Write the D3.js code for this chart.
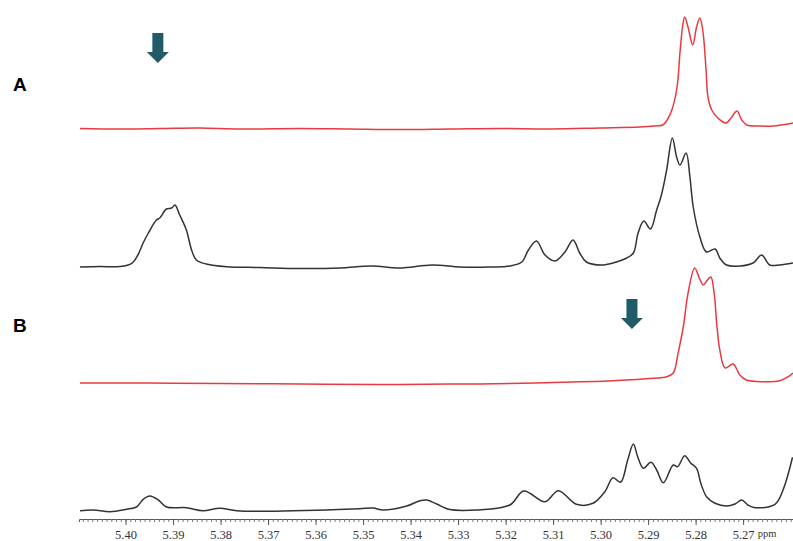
<!DOCTYPE html>
<html>
<head>
<meta charset="utf-8">
<script src="https://cdn.jsdelivr.net/npm/d3@7"></script>
<style>
    body { margin: 0; background: #fff; }
    svg { display: block; }
</style>
</head>
<body>
<svg id="vis" width="793" height="541"></svg>
<script>
/**
 * 1H NMR spectra, 5.41 - 5.26 ppm
 * each point is [ppm, intensity] (arbitrary units above the trace baseline)
 */
const redA = [[5.4096,0.5],[5.4012,0],[5.3928,0.5],[5.3844,1],[5.3759,0],[5.3633,0.5],[5.3528,0],[5.3423,-0.5],
    [5.3317,0],[5.3212,0.5],[5.3107,0],[5.3002,1],[5.2917,2],[5.2886,3],[5.2869,4],[5.2860,9],[5.2850,19],
    [5.2839,42],[5.2833,76],[5.2827,104],[5.2823,112],[5.2816,102],[5.2806,84],[5.2798,102],[5.2791,111],
    [5.2785,99],[5.2778,59],[5.2774,32],[5.2766,19],[5.2753,11],[5.2736,6],[5.2724,12],[5.2713,18],
    [5.2703,9],[5.2692,4],[5.2665,3],[5.2637,3],[5.2595,6]];

const blackA = [[5.4096,1],[5.4054,1.5],[5.4012,1.5],[5.3987,4.7],[5.3974,13],[5.3963,25],[5.3952,35],[5.3935,48],
    [5.3928,50],[5.3914,59],[5.3903,60],[5.3896,63],[5.3886,53],[5.3872,38],[5.3861,18],[5.3851,8],[5.3830,4],
    [5.3787,1.3],[5.3717,0.5],[5.3633,-0.5],[5.3549,0],[5.3482,2],[5.3423,0],[5.3355,3],[5.3296,1],[5.3233,1],
    [5.3191,2],[5.3166,6],[5.3152,18],[5.3135,27],[5.3117,13],[5.3096,7],[5.3075,16],[5.3058,28],[5.3044,15],
    [5.3030,6],[5.2998,3],[5.2974,5],[5.2945,10],[5.2931,15],[5.2921,35],[5.2909,47],[5.2895,39],[5.2882,58],
    [5.2872,73],[5.2861,98],[5.2849,130],[5.2840,111],[5.2833,103],[5.2820,115],[5.2812,91],[5.2805,61],
    [5.2791,31],[5.2777,16],[5.2759,19],[5.2749,10],[5.2735,3],[5.2707,2],[5.2679,5],[5.2661,13],[5.2644,3],
    [5.2623,3],[5.2595,5]];

const redB = [[5.4096,1],[5.3949,1],[5.3802,0.5],[5.3633,0],[5.3465,-0.5],[5.3317,0],[5.3254,0],[5.3114,1.3],
    [5.2974,3.3],[5.2889,5.7],[5.2861,7.3],[5.2847,11],[5.2837,30.7],[5.2826,57],[5.2816,90.7],[5.2802,116],
    [5.2792,105.7],[5.2784,99],[5.2775,104],[5.2768,107],[5.2761,90.7],[5.2755,57.3],[5.2749,34],[5.2738,16],
    [5.2721,20],[5.2707,9],[5.2693,4],[5.2658,2.3],[5.2623,3.3],[5.2605,7.3],[5.2595,11]];

const blackB = [[5.4096,0.3],[5.4068,1],[5.4033,-0.7],[5.3998,1.7],[5.3977,4],[5.3963,11.7],[5.3949,15],[5.3931,11],
    [5.3914,4],[5.3872,3.3],[5.3837,0.3],[5.3802,2.7],[5.3766,0.3],[5.3717,-0.3],[5.3647,0.3],[5.3577,1],
    [5.3507,2.3],[5.3479,3],[5.3458,1],[5.3408,5],[5.3380,10.3],[5.3366,11],[5.3345,7],[5.3320,1.7],[5.3261,1],
    [5.3191,6],[5.3162,20],[5.3117,9.3],[5.3089,20.3],[5.3051,6.7],[5.3016,7.7],[5.2991,19.3],[5.2974,33.3],
    [5.2958,28.7],[5.2943,51],[5.2931,67],[5.2922,54.3],[5.2910,42.7],[5.2894,48.7],[5.2882,41],[5.2868,28.3],
    [5.2847,46],[5.2838,44.3],[5.2823,55.3],[5.2810,47.7],[5.2798,42.7],[5.2789,27.7],[5.2777,14.3],[5.2759,7.7],
    [5.2735,5],[5.2717,7],[5.2703,11],[5.2690,6],[5.2675,3.3],[5.2633,6.7],[5.2616,21],[5.2596,53.7]];

// vertical stacking offsets for each trace (same units as intensity)
const traceOffsets = [391, 252, 136, 9];
const traceColors = ["#e83a3f", "#333333", "#e83a3f", "#333333"];

// axis tick labels
const majorTicks = [5.40, 5.39, 5.38, 5.37, 5.36, 5.35, 5.34, 5.33, 5.32, 5.31, 5.30, 5.29, 5.28, 5.27];

// panel labels and the arrows pointing at the signal of interest
const panelLabels = ["A", "B"];
const arrowPpm = [5.3932, 5.2934];

const MARGINS = {top: 0, right: 0, bottom: 22, left: 79};
const WIDTH = 793, HEIGHT = 541;

var svg = d3.select("#vis");

// x axis: ppm decreasing to the right, as usual for NMR
var xScale = d3.scaleLinear()
    .domain([5.4098, 5.2595])
    .range([MARGINS.left, WIDTH - MARGINS.right]);

var yScale = d3.scaleLinear()
    .domain([0, 520])
    .range([520, 0]);

var line = d3.line()
    .x(function(d){ return xScale(d[0]); })
    .y(function(d){ return yScale(d[1] + d.off); })
    .curve(d3.curveCatmullRom.alpha(0.5));

// draw the four spectra
[redA, blackA, redB, blackB].forEach(function(series, i){
    var pts = series.map(function(p){ var q = [p[0], p[1]]; q.off = traceOffsets[i]; return q; });
    svg.append("path")
        .datum(pts)
        .attr("d", line)
        .attr("fill", "none")
        .attr("stroke", traceColors[i])
        .attr("stroke-width", 1.5)
        .attr("stroke-linejoin", "round");
});

// ppm axis: minor ticks every 0.001, labelled ticks every 0.01
var axisY = 519;
var minorTicks = d3.range(5409, 5259, -1).map(function(v){ return v / 1000; });

var minorAxis = d3.axisBottom(xScale)
    .tickValues(minorTicks)
    .tickSize(3)
    .tickFormat("");
var majorAxis = d3.axisBottom(xScale)
    .tickValues(majorTicks)
    .tickSize(6)
    .tickPadding(5)
    .tickFormat(d3.format(".2f"));

var gMinor = svg.append("g")
    .attr("transform", `translate(0, ${axisY})`)
    .call(minorAxis);
gMinor.select(".domain").attr("stroke", "#555").attr("stroke-width", 1);
gMinor.selectAll(".tick line").attr("stroke", "#777");

var gMajor = svg.append("g")
    .attr("transform", `translate(0, ${axisY})`)
    .call(majorAxis);
gMajor.select(".domain").remove();
gMajor.selectAll(".tick line").attr("stroke", "#555");
gMajor.selectAll("text")
    .style("font-family", "'Liberation Serif', 'DejaVu Serif', serif")
    .style("font-size", "12.5px")
    .attr("fill", "#333");

svg.append("text")
    .attr("x", 767)
    .attr("y", axisY + 18)
    .style("text-anchor", "middle")
    .style("font-family", "'Liberation Serif', serif")
    .style("font-size", "10.5px")
    .attr("fill", "#333")
    .text("ppm");

// panel letters
var labelY = [91, 332];
panelLabels.forEach(function(t, i){
    svg.append("text")
        .attr("x", 13)
        .attr("y", labelY[i])
        .style("font-family", "'Liberation Sans', Arial, sans-serif")
        .style("font-weight", "bold")
        .style("font-size", "19px")
        .attr("fill", "#000")
        .text(t);
});

// block arrows
var arrowTop = [33, 299];
arrowPpm.forEach(function(p, i){
    var cx = xScale(p), t = arrowTop[i];
    var path = d3.path();
    path.moveTo(cx - 5.5, t);
    path.lineTo(cx + 5.5, t);
    path.lineTo(cx + 5.5, t + 19);
    path.lineTo(cx + 11, t + 19);
    path.lineTo(cx, t + 30);
    path.lineTo(cx - 11, t + 19);
    path.lineTo(cx - 5.5, t + 19);
    path.closePath();
    svg.append("path")
        .attr("d", path.toString())
        .attr("fill", "#215a69");
});
</script>
</body>
</html>
